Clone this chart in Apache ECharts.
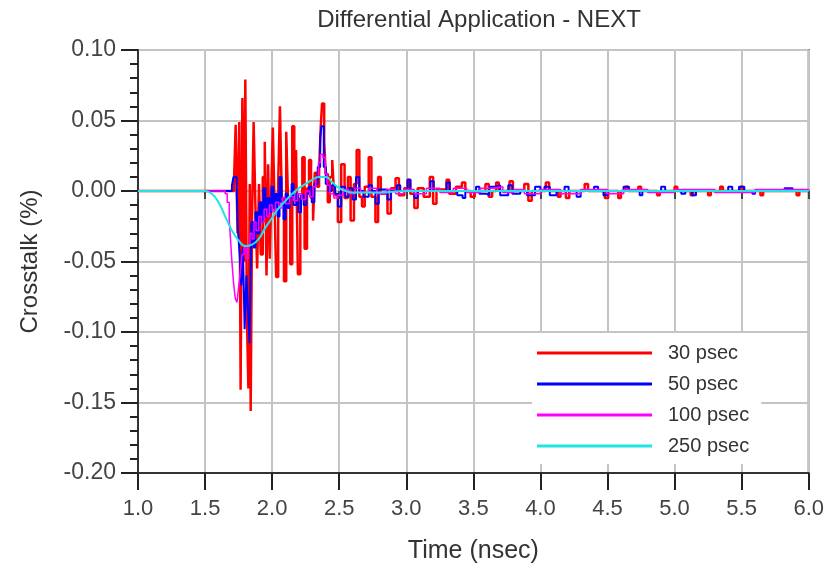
<!DOCTYPE html>
<html>
<head>
<meta charset="utf-8">
<title>Differential Application - NEXT</title>
<script src="https://cdn.jsdelivr.net/npm/echarts@6/dist/echarts.min.js"></script>
<style>
  html, body { margin: 0; padding: 0; background: #fff; }
  #chart { width: 827px; height: 569px; }
</style>
</head>
<body>
<div id="chart"></div>
<script>
// time (nsec) / crosstalk (%) pairs; each value holds until the next time
const t30 = [1.00, 1.715, 1.728, 1.742, 1.755, 1.765, 1.778, 1.790, 1.800, 1.812, 1.823, 1.833, 1.840, 1.850,
  1.862, 1.875, 1.888, 1.902, 1.915, 1.930, 1.945, 1.958, 1.970, 1.982, 1.995, 2.005, 2.018, 2.030, 2.045,
  2.058, 2.072, 2.088, 2.105, 2.118, 2.135, 2.150, 2.165, 2.178, 2.192, 2.210, 2.225, 2.242, 2.260, 2.275,
  2.290, 2.305, 2.318, 2.335, 2.350, 2.362, 2.372, 2.388, 2.400, 2.415, 2.430, 2.448, 2.462, 2.490, 2.515,
  2.540, 2.565, 2.585, 2.610, 2.630, 2.650, 2.670, 2.690, 2.720, 2.740, 2.770, 2.790, 2.810, 2.860, 2.885,
  2.920, 2.945, 2.985, 3.010, 3.030, 3.060, 3.085, 3.130, 3.175, 3.200, 3.225, 3.300, 3.320, 3.370, 3.415,
  3.440, 3.480, 3.510, 3.590, 3.615, 3.640, 3.670, 3.690, 3.770, 3.795, 3.880, 3.910, 3.935, 4.040, 4.065,
  4.130, 4.150, 4.190, 4.215, 4.330, 4.355, 4.480, 4.505, 4.580, 4.600, 4.635, 4.655, 4.730, 4.750, 4.870,
  4.890, 5.000, 5.020, 5.120, 5.140, 5.250, 5.270, 5.340, 5.360, 5.490, 5.510, 5.640, 5.660, 5.910, 5.930, 6.00];
const v30 = [0, 0.004, 0.047, -0.03, 0.049, -0.141, 0.066, -0.05, 0.079, -0.09, -0.140, 0.005, -0.156, -0.02,
  0.049, -0.01, -0.055, 0.005, -0.045, 0.010, 0.035, -0.060, 0.019, -0.048, 0.005, 0.045, -0.010, -0.061, 0.005,
  0.060, -0.005, -0.064, 0.042, -0.005, -0.052, 0.046, 0.000, 0.029, -0.059, -0.005, 0.024, -0.041, 0.002, 0.022,
  -0.005, -0.021, 0.013, 0.003, 0.015, 0.045, 0.062, 0.035, 0.012, -0.008, 0.010, 0.022, -0.003, -0.022, 0.019,
  -0.005, 0.010, -0.021, 0.005, 0.029, -0.004, -0.011, 0.003, 0.024, -0.004, -0.022, 0.010, -0.002, -0.016, 0.002,
  0.009, -0.003, 0.002, 0.008, -0.002, -0.012, 0.002, -0.004, 0.010, -0.009, 0.001, 0.008, -0.002, 0.003, 0.006,
  0.000, -0.004, 0.000, 0.005, -0.004, 0.000, 0.006, 0.000, 0.007, 0.000, 0.005, -0.007, 0.000, 0.006, 0.000,
  -0.004, 0.000, -0.005, 0.000, 0.005, 0.000, -0.005, 0.000, -0.005, 0.000, 0.003, 0.000, 0.003, 0.000, -0.003,
  0.000, 0.003, 0.000, -0.003, 0.000, -0.003, 0.000, 0.003, 0.000, 0.003, 0.000, -0.003, 0.000, -0.003, 0.000, 0];

const t50 = [1.00, 1.700, 1.712, 1.735, 1.745, 1.758, 1.770, 1.782, 1.795, 1.808, 1.820, 1.832, 1.845, 1.860,
  1.875, 1.890, 1.905, 1.920, 1.935, 1.950, 1.965, 1.980, 1.995, 2.010, 2.025, 2.040, 2.055, 2.070, 2.085,
  2.100, 2.115, 2.130, 2.145, 2.160, 2.180, 2.195, 2.215, 2.235, 2.255, 2.275, 2.295, 2.315, 2.340, 2.358,
  2.368, 2.385, 2.400, 2.420, 2.445, 2.470, 2.490, 2.515, 2.545, 2.570, 2.600, 2.625, 2.650, 2.680, 2.720,
  2.745, 2.770, 2.795, 2.860, 2.885, 2.930, 2.955, 3.010, 3.030, 3.060, 3.085, 3.180, 3.205, 3.300, 3.325,
  3.380, 3.420, 3.440, 3.520, 3.545, 3.600, 3.620, 3.660, 3.700, 3.760, 3.790, 3.850, 3.900, 3.960, 4.000,
  4.030, 4.070, 4.120, 4.180, 4.210, 4.270, 4.300, 4.400, 4.430, 4.470, 4.500, 4.620, 4.660, 4.740, 4.760,
  4.900, 4.930, 5.050, 5.080, 5.130, 5.160, 5.400, 5.430, 5.480, 5.520, 5.580, 5.600, 5.820, 5.880, 6.00];
const v50 = [0, 0.004, 0.010, 0.002, -0.028, -0.045, -0.067, -0.040, -0.098, -0.060, -0.085, -0.108, -0.022, -0.040,
  -0.015, -0.030, -0.008, -0.022, 0.002, -0.018, -0.005, -0.015, 0.003, -0.012, -0.002, -0.018, 0.010, -0.008, -0.020,
  -0.002, -0.012, -0.005, 0.005, -0.010, -0.002, -0.015, -0.003, -0.010, -0.002, 0.003, -0.008, 0.005, 0.017, 0.038,
  0.046, 0.017, 0.005, 0.000, 0.004, -0.002, -0.011, 0.003, -0.004, 0.002, -0.006, 0.010, 0.000, -0.004, 0.004,
  0.000, -0.009, 0.001, -0.006, 0.000, 0.004, 0.000, 0.008, 0.000, -0.005, 0.000, 0.007, 0.000, 0.006, 0.000,
  -0.003, -0.005, 0.000, 0.003, -0.002, -0.003, 0.003, 0.004, -0.003, 0.004, -0.002, 0.000, -0.003, 0.003, 0.000,
  0.003, -0.003, 0.000, 0.003, 0.000, -0.004, 0.000, 0.003, 0.000, -0.003, 0.000, 0.003, 0.000, -0.003, 0.000,
  0.003, 0.000, -0.002, 0.000, -0.003, 0.000, 0.003, 0.000, 0.003, 0.000, -0.002, 0.000, 0.002, 0.000, 0];

const t100 = [1.00, 1.650, 1.665, 1.680, 1.690, 1.700, 1.712, 1.725, 1.738, 1.750, 1.762, 1.775, 1.790, 1.805,
  1.820, 1.835, 1.850, 1.865, 1.880, 1.900, 1.920, 1.940, 1.960, 1.980, 2.000, 2.025, 2.050, 2.075, 2.100,
  2.130, 2.160, 2.190, 2.220, 2.250, 2.280, 2.305, 2.325, 2.345, 2.360, 2.378, 2.395, 2.410, 2.430, 2.460,
  2.490, 2.530, 2.570, 2.620, 2.660, 2.720, 2.780, 2.850, 2.920, 2.980, 3.060, 3.150, 3.250, 3.350, 3.450,
  3.550, 3.650, 3.720, 3.800, 3.880, 4.000, 4.150, 4.300, 4.500, 4.620, 4.800, 5.000, 5.300, 5.600, 6.00];
const v100 = [0, -0.002, -0.008, -0.020, -0.035, -0.050, -0.065, -0.076, -0.079, -0.068, -0.058, -0.045, -0.040, -0.048,
  -0.038, -0.030, -0.034, -0.022, -0.028, -0.018, -0.022, -0.013, -0.018, -0.010, -0.014, -0.008, -0.012, -0.005, -0.009,
  -0.004, -0.007, -0.002, -0.006, 0.000, -0.004, 0.003, 0.010, 0.020, 0.026, 0.024, 0.012, 0.004, -0.002, -0.005,
  -0.003, 0.001, -0.002, 0.002, -0.001, 0.002, -0.002, 0.001, -0.002, 0.001, -0.002, 0.002, -0.001, 0.002, -0.001,
  0.002, 0.003, -0.001, 0.001, -0.002, 0.001, -0.002, 0.001, -0.002, 0.001, -0.001, 0.001, -0.001, 0.001, 0];

const t250 = [1.00, 1.50, 1.55, 1.60, 1.65, 1.70, 1.75, 1.80, 1.85, 1.90, 1.95, 2.00, 2.05, 2.10, 2.15,
  2.20, 2.25, 2.30, 2.35, 2.40, 2.45, 2.50, 2.55, 2.60, 2.80, 3.00, 6.00];
const v250 = [0, 0, -0.002, -0.008, -0.018, -0.028, -0.035, -0.039, -0.038, -0.034, -0.026, -0.019, -0.012, -0.007, -0.002,
  0.002, 0.005, 0.008, 0.010, 0.010, 0.006, 0.002, 0.000, -0.001, -0.001, 0, 0];

const names = ['30 psec', '50 psec', '100 psec', '250 psec'];
const colors = ['#ff0000', '#0000ff', '#ff00ff', '#22e4e4'];
const xTicks = { min: 1, max: 6, step: 0.5 };
const yTicks = { min: -0.2, max: 0.1, step: 0.05 };

const zip = (t, v) => t.map((x, i) => [x, v[i]]);
const font = "'Liberation Sans', Arial, sans-serif";

const chart = echarts.init(document.getElementById('chart'));

chart.setOption({
  animation: false,
  backgroundColor: '#fff',
  color: colors,
  title: {
    text: 'Differential Application - NEXT',
    left: 474,
    top: 3,
    textAlign: 'center',
    textStyle: { fontFamily: font, fontSize: 24, fontWeight: 'normal', color: '#333' }
  },
  grid: {
    left: 138, right: 17, top: 50, bottom: 94,
    show: true, borderColor: '#505050', borderWidth: 2
  },
  legend: {
    orient: 'vertical',
    left: 532, top: 333,
    data: names,
    icon: 'rect',
    itemWidth: 115, itemHeight: 3,
    itemGap: 11,
    padding: [10, 12, 8, 5],
    backgroundColor: '#fff',
    textStyle: { fontFamily: font, fontSize: 20, color: '#333', padding: [0, 0, 0, 11] }
  },
  xAxis: [{
    type: 'value',
    min: xTicks.min, max: xTicks.max, interval: xTicks.step,
    name: 'Time (nsec)',
    nameLocation: 'middle',
    nameGap: 66,
    nameTextStyle: { fontFamily: font, fontSize: 25, color: '#333' },
    axisLine: { show: true, onZero: false, lineStyle: { color: '#333', width: 2 } },
    axisTick: { show: true, length: 17, lineStyle: { color: '#222', width: 2 } },
    axisLabel: { margin: 25, fontFamily: font, fontSize: 22, color: '#444',
      formatter: v => v.toFixed(1) },
    splitLine: { show: true, lineStyle: { color: '#c4c4c4', width: 2 } }
  }, {
    type: 'value',
    position: 'top',
    min: xTicks.min, max: xTicks.max, interval: xTicks.step,
    axisLine: { show: false },
    axisTick: { show: true, inside: true, length: 8, lineStyle: { color: '#444', width: 2 } },
    axisLabel: { show: false },
    splitLine: { show: false }
  }],
  yAxis: {
    type: 'value',
    min: yTicks.min, max: yTicks.max, interval: yTicks.step,
    name: 'Crosstalk (%)',
    nameLocation: 'middle',
    nameGap: 96,
    nameTextStyle: { fontFamily: font, fontSize: 24, color: '#333' },
    axisLine: { show: true, onZero: false, lineStyle: { color: '#333', width: 2 } },
    axisTick: { show: true, length: 17, lineStyle: { color: '#222', width: 2 } },
    minorTick: { show: true, splitNumber: 5, length: 8, lineStyle: { color: '#222', width: 2 } },
    axisLabel: { margin: 22, fontFamily: font, fontSize: 23, color: '#444',
      formatter: v => v.toFixed(2) },
    splitLine: { show: true, lineStyle: { color: '#c4c4c4', width: 2 } }
  },
  series: [
    { name: names[0], type: 'line', data: zip(t30, v30), step: 'end', symbol: 'none',
      lineStyle: { width: 2.5, color: colors[0] }, z: 2 },
    { name: names[1], type: 'line', data: zip(t50, v50), step: 'end', symbol: 'none',
      lineStyle: { width: 2, color: colors[1] }, z: 3 },
    { name: names[2], type: 'line', data: zip(t100, v100), step: 'end', symbol: 'none',
      lineStyle: { width: 1.5, color: colors[2] }, z: 4 },
    { name: names[3], type: 'line', data: zip(t250, v250), smooth: true, symbol: 'none',
      lineStyle: { width: 2, color: colors[3] }, z: 5 }
  ]
});
</script>
</body>
</html>
